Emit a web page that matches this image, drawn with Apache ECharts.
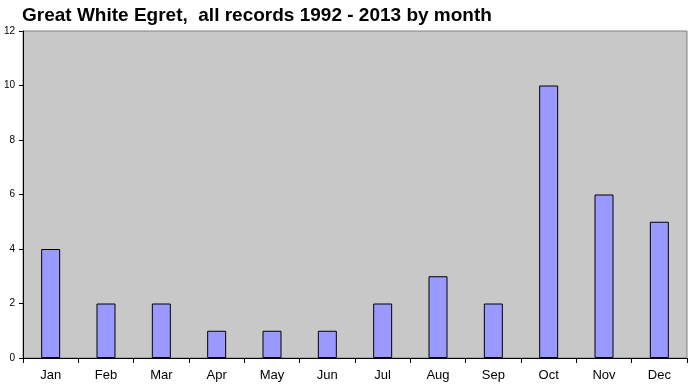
<!DOCTYPE html>
<html><head><meta charset="utf-8">
<script src="https://cdn.jsdelivr.net/npm/echarts@6/dist/echarts.min.js"></script>
<style>html,body{margin:0;padding:0;background:#fff}#c{width:691px;height:385px}</style>
</head><body><div id="c"></div>
<script>
const months = ['Jan','Feb','Mar','Apr','May','Jun','Jul','Aug','Sep','Oct','Nov','Dec'];
const records = [4,2,2,1,1,1,2,3,2,10,6,5];
const titleText = 'Great White Egret,  all records 1992 - 2013 by month';

const chart = echarts.init(document.getElementById('c'), null, {renderer:'canvas'});
chart.setOption({
  animation:false,
  title:{text:titleText,left:17,top:1,textStyle:{fontFamily:'Liberation Sans',fontWeight:'bold',fontSize:19,color:'#000'}},
  grid:{left:23,right:4,top:31,bottom:27,backgroundColor:'#C8C8C8',show:true,borderColor:'#808080',borderWidth:1},
  xAxis:{type:'category',data:months,
    axisLine:{lineStyle:{color:'#000'}},
    axisTick:{show:true,length:5,lineStyle:{color:'#000'}},
    axisLabel:{fontFamily:'Liberation Sans',fontSize:13,color:'#000',margin:11}},
  yAxis:{type:'value',min:0,max:12,interval:2,
    axisLine:{show:true,lineStyle:{color:'#000'}},
    axisTick:{show:true,length:4,lineStyle:{color:'#000'}},
    splitLine:{show:false},
    axisLabel:{fontFamily:'Liberation Sans',fontSize:10,color:'#000',margin:8}},
  series:[{type:'bar',data:records,barWidth:19,
    itemStyle:{color:'#9999FF',borderColor:'#000',borderWidth:1}}]
});
</script></body></html>
